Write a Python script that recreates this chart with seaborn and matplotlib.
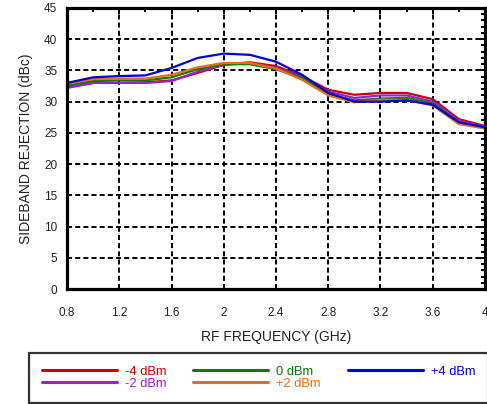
import numpy as np
import pandas as pd
import matplotlib
matplotlib.use("Agg")
import matplotlib.pyplot as plt
from matplotlib.ticker import MultipleLocator
import seaborn as sns

# RF frequency sweep (GHz)
freq = [0.8, 1.0, 1.2, 1.4, 1.6, 1.8, 2.0, 2.2, 2.4, 2.6, 2.8, 3.0, 3.2, 3.4, 3.6, 3.8, 4.0]

# Sideband rejection (dBc) for each LO drive level
sbr_m4 = [32.3, 33.0, 33.0, 33.1, 33.4, 34.6, 35.9, 36.3, 35.7, 34.1, 31.9, 31.1, 31.4, 31.4, 30.4, 27.2, 26.1]
sbr_m2 = [32.2, 33.0, 33.0, 33.0, 33.3, 34.8, 35.9, 36.2, 35.4, 34.0, 31.6, 30.6, 31.0, 31.0, 30.0, 26.9, 26.0]
sbr_0 = [32.6, 33.3, 33.4, 33.4, 33.9, 35.2, 36.0, 36.0, 35.2, 33.8, 31.2, 30.2, 30.5, 30.6, 29.7, 26.7, 25.9]
sbr_p2 = [32.9, 33.6, 33.7, 33.7, 34.3, 35.5, 36.2, 36.2, 35.3, 33.5, 31.0, 29.9, 30.3, 30.3, 29.4, 26.4, 25.7]
sbr_p4 = [33.0, 33.9, 34.1, 34.2, 35.4, 37.0, 37.7, 37.5, 36.4, 34.3, 31.4, 30.0, 30.0, 30.2, 29.5, 26.7, 25.9]

labels = ["-4 dBm", "-2 dBm", "0 dBm", "+2 dBm", "+4 dBm"]
colors = ["#cc0000", "#9b1fd0", "#008000", "#f06a10", "#0000e0"]

x_ticks = [0.8, 1.2, 1.6, 2.0, 2.4, 2.8, 3.2, 3.6, 4.0]
x_ticklabels = ["0.8", "1.2", "1.6", "2", "2.4", "2.8", "3.2", "3.6", "4"]

df = pd.DataFrame({
    "freq": freq * 5,
    "sbr": sbr_m4 + sbr_m2 + sbr_0 + sbr_p2 + sbr_p4,
    "level": sum([[lab] * len(freq) for lab in labels], []),
})

sns.set_theme(style="white")
plt.rcParams["font.family"] = ["Liberation Sans", "DejaVu Sans"]

fig = plt.figure(figsize=(4.87, 4.04), dpi=100)
ax = fig.add_axes([67 / 487, 1 - 289 / 404, 418 / 487, 281 / 404])

sns.lineplot(data=df, x="freq", y="sbr", hue="level", hue_order=labels,
             palette=colors, linewidth=1.6, ax=ax, legend=False)

ax.set_xlim(0.8, 4.0)
ax.set_ylim(0, 45)
ax.set_xticks(x_ticks)
ax.set_xticklabels(x_ticklabels)
ax.set_yticks(range(0, 46, 5))
ax.xaxis.set_minor_locator(MultipleLocator(0.2))
ax.yaxis.set_minor_locator(MultipleLocator(1))

ax.grid(True, which="major", color="black", linewidth=1.4, linestyle=(0, (2.6, 1.6)))
ax.set_axisbelow(True)
for sp in ax.spines.values():
    sp.set_visible(True)
    sp.set_color("black")
    sp.set_linewidth(2.3)

ax.tick_params(which="both", direction="in", top=True, right=True, color="black",
               labelsize=8.5, labelcolor="#222222")
ax.tick_params(which="major", length=4, width=1.4)
ax.tick_params(axis="x", which="major", pad=13)
ax.tick_params(axis="y", which="major", pad=7)
ax.tick_params(which="minor", length=3, width=1.4)

ax.set_xlabel("RF FREQUENCY (GHz)", fontsize=10, color="#222222", labelpad=8)
ax.set_ylabel("SIDEBAND REJECTION (dBc)", fontsize=10, color="#222222", labelpad=8)

handles = [plt.Line2D([], [], color=c, linewidth=2.2) for c in colors]
leg = fig.legend(handles, labels, ncol=3, loc="upper left",
                 bbox_to_anchor=(29 / 487, 1 - 353 / 404),
                 frameon=True, fancybox=False,
                 handlelength=5.8, handletextpad=0.62, columnspacing=2.1,
                 labelspacing=0.0, fontsize=9.3, labelcolor="linecolor",
                 borderaxespad=0, borderpad=1.0)
leg.get_frame().set_edgecolor("black")
leg.get_frame().set_linewidth(1.6)

fig.savefig("out.png", dpi=100)
